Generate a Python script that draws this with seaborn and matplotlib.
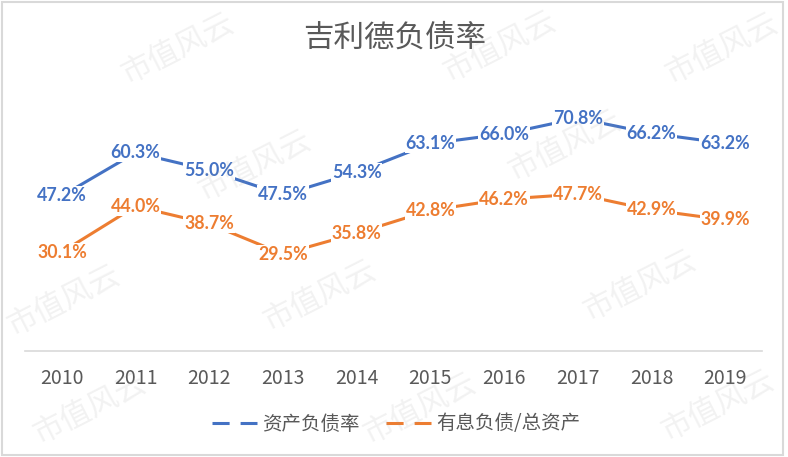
import matplotlib
matplotlib.use("Agg")
import matplotlib.pyplot as plt
import seaborn as sns
import pandas as pd
from matplotlib.lines import Line2D
from matplotlib.patches import Rectangle

years = ["2010", "2011", "2012", "2013", "2014", "2015", "2016", "2017", "2018", "2019"]
debt_ratio = [47.2, 60.3, 55.0, 47.5, 54.3, 63.1, 66.0, 70.8, 66.2, 63.2]
interest_debt_ratio = [30.1, 44.0, 38.7, 29.5, 35.8, 42.8, 46.2, 47.7, 42.9, 39.9]
series_names = ["资产负债率", "有息负债/总资产"]
title = "吉利德负债率"
watermark = "市值风云"

colors = ["#4472C4", "#ED7D31"]

sns.set_theme(style="white")
plt.rcParams["font.family"] = ["Noto Sans CJK SC", "DejaVu Sans"]

df = pd.DataFrame({
    "year": years * 2,
    "value": debt_ratio + interest_debt_ratio,
    "series": [series_names[0]] * len(years) + [series_names[1]] * len(years),
})

fig = plt.figure(figsize=(7.88, 4.57), dpi=100)
ax = fig.add_axes([25 / 788, (457 - 351) / 457, (762 - 25) / 788, (351 - 88) / 457])

sns.lineplot(data=df, x="year", y="value", hue="series", palette=colors,
             linewidth=2.2, sort=False, errorbar=None, ax=ax, legend=False, zorder=2)

for vals, c in zip([debt_ratio, interest_debt_ratio], colors):
    for i, v in enumerate(vals):
        ax.text(i, v, f"{v:.1f}%", ha="center", va="center", color=c,
                fontsize=12.8, fontweight="bold", family=["Lato", "DejaVu Sans"],
                bbox=dict(boxstyle="square,pad=0.05", fc="white", ec="none"), zorder=3)

ax.set_xlim(-0.5, len(years) - 0.5)
ax.set_ylim(0, 80)
ax.set_xlabel("")
ax.set_ylabel("")
ax.set_yticks([])
for s in ["top", "left", "right"]:
    ax.spines[s].set_visible(False)
ax.spines["bottom"].set_color("#d9d9d9")
ax.spines["bottom"].set_linewidth(1.2)
ax.tick_params(axis="x", length=0, pad=12, labelsize=14, labelcolor="#595959")
ax.patch.set_alpha(0)

fig.text(394.5 / 788, 1 - 38 / 457, title, ha="center", va="center",
         fontsize=22, color="#595959", fontweight="light")

handles = [Line2D([0], [0], color=c, lw=2.2, linestyle=(0, (5.6, 3.6))) for c in colors]
fig.legend(handles, series_names, loc="center", bbox_to_anchor=(396 / 788, (457 - 424) / 457),
           ncol=2, frameon=False, fontsize=14, handlelength=2.3, handletextpad=0.25,
           columnspacing=1.4, labelcolor="#595959")

# watermark
wm_pos = [(178, 48), (500, 46), (722, 48), (255, 165), (565, 145),
          (64, 300), (320, 295), (640, 285), (90, 408), (420, 408), (718, 405)]
for (x, y) in wm_pos:
    fig.text(x / 788, 1 - y / 457, watermark, ha="center", va="center", rotation=27,
             fontsize=22, color="#9a9a9a", alpha=0.13, fontweight="light", zorder=10)

fig.patches.append(Rectangle((0.002, 0.004), 0.992, 0.992, transform=fig.transFigure,
                             fill=False, ec="#d9d9d9", lw=1.5))

fig.savefig("out.png", dpi=100, facecolor="white")
